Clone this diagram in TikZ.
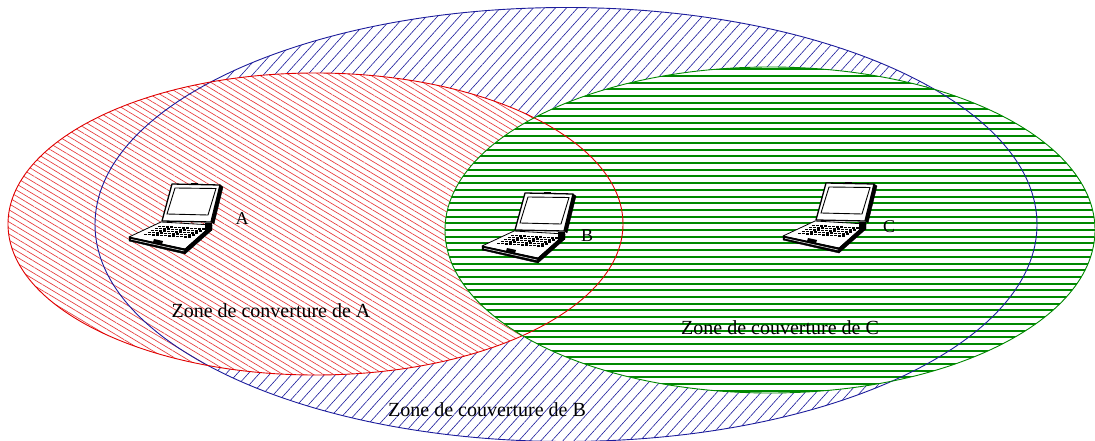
\documentclass[tikz,border=0pt]{standalone}
\usepackage{fontspec}
\setmainfont{Liberation Serif}
\usetikzlibrary{patterns.meta}
\usepackage{xcolor}
\definecolor{cZoneA}{HTML}{E00000}
\definecolor{cZoneB}{HTML}{1C1C9C}
\definecolor{cZoneC}{HTML}{008800}
\tikzset{
  zonebg/.style={fill=white},
  hatchA/.style={pattern={Lines[angle=-31, distance=5.2pt, line width=0.65pt]}, pattern color=cZoneA!78},
  hatchB/.style={pattern={Lines[angle=48, distance=8.2pt, line width=0.6pt]}, pattern color=cZoneB},
  stripeC/.style={draw=cZoneC, line width=2pt},
  rim/.style={draw=#1, line width=0.9pt},
  zonetext/.style={font=\fontsize{20}{24}\selectfont, inner sep=0pt},
  pctext/.style={font=\fontsize{18}{22}\selectfont, inner sep=0pt},
  pics/laptop/.style={code={
    % base of the laptop
    \filldraw[fill=white, line width=0.8pt, line join=round]
      (-11,38) -- (40,41) -- (13,65) -- (-43,53) -- cycle;
    \filldraw[line join=round] (-43,53) -- (13,65) -- (13,70) -- (-43,57) -- cycle;
    \filldraw[line join=round] (13,65) -- (40,41) -- (40,46) -- (13,70) -- cycle;
    \draw[white, line width=0.5pt] (-41,55.3) -- (12,67);
    \fill (33,39) rectangle (40,47);
    % keyboard
    \foreach \i in {0,...,11}
      \foreach \j in {0,...,4}
        \fill ({-14+4*\i-3.4*\j}, {41.5+0.25*\i+2*\j}) rectangle +(3,1.7);
    % touchpad
    \fill (-18,55) -- (-9,57) -- (-10,60) -- (-19,58) -- cycle;
    % lid
    \filldraw[line join=round] (48,1) -- (51,3) -- (42,40) -- (39,38) -- cycle;
    \filldraw[fill=white, line width=1.3pt, line join=round]
      (0,0) -- (48,1) -- (39,38) -- (-10,37) -- cycle;
    \draw[line width=0.9pt] (3,4) -- (44,4.5) -- (36,31) -- (-5,30) -- cycle;
    \fill (19,-0.8) rectangle (26,1.2);
  }},
}

\begin{document}
\begin{tikzpicture}[x=1pt, y=-1pt]
  \useasboundingbox (0,0) rectangle (1095,441);

  \coordinate (zB) at (566,224.5);
  \coordinate (zA) at (315.5,224);
  \coordinate (zC) at (770,230);

  % zones, largest first
  \fill[zonebg] (zB) ellipse [x radius=471, y radius=217];
  \fill[hatchB] (zB) ellipse [x radius=471, y radius=217];
  \fill[zonebg] (zA) ellipse [x radius=307.5, y radius=151];
  \fill[hatchA] (zA) ellipse [x radius=307.5, y radius=151];
  \fill[zonebg] (zC) ellipse [x radius=325, y radius=163];
  \begin{scope}
    \clip (zC) ellipse [x radius=325, y radius=163];
    \foreach \k in {-25,...,25}
      \draw[stripeC] ([yshift=6.7*\k pt]zC) ++(-330,0) -- ++(660,0);
  \end{scope}

  % outlines on top
  \draw[rim=cZoneB] (zB) ellipse [x radius=471, y radius=217];
  \draw[rim=cZoneA] (zA) ellipse [x radius=307.5, y radius=151];
  \draw[rim=cZoneC] (zC) ellipse [x radius=325, y radius=163];

  % stations
  \pic (pcA) at (172,184) {laptop};
  \pic (pcB) at (525,193) {laptop};
  \pic (pcC) at (826,183) {laptop};

  \node[pctext] (labA) at (242,219) {A};
  \node[pctext] (labB) at (587,236) {B};
  \node[pctext] (labC) at (889,227) {C};

  \node[zonetext] (txtA) at (271,311) {Zone de converture de A};
  \node[zonetext] (txtC) at (780,328) {Zone de couverture de C};
  \node[zonetext] (txtB) at (487,410) {Zone de couverture de B};
\end{tikzpicture}
\end{document}
